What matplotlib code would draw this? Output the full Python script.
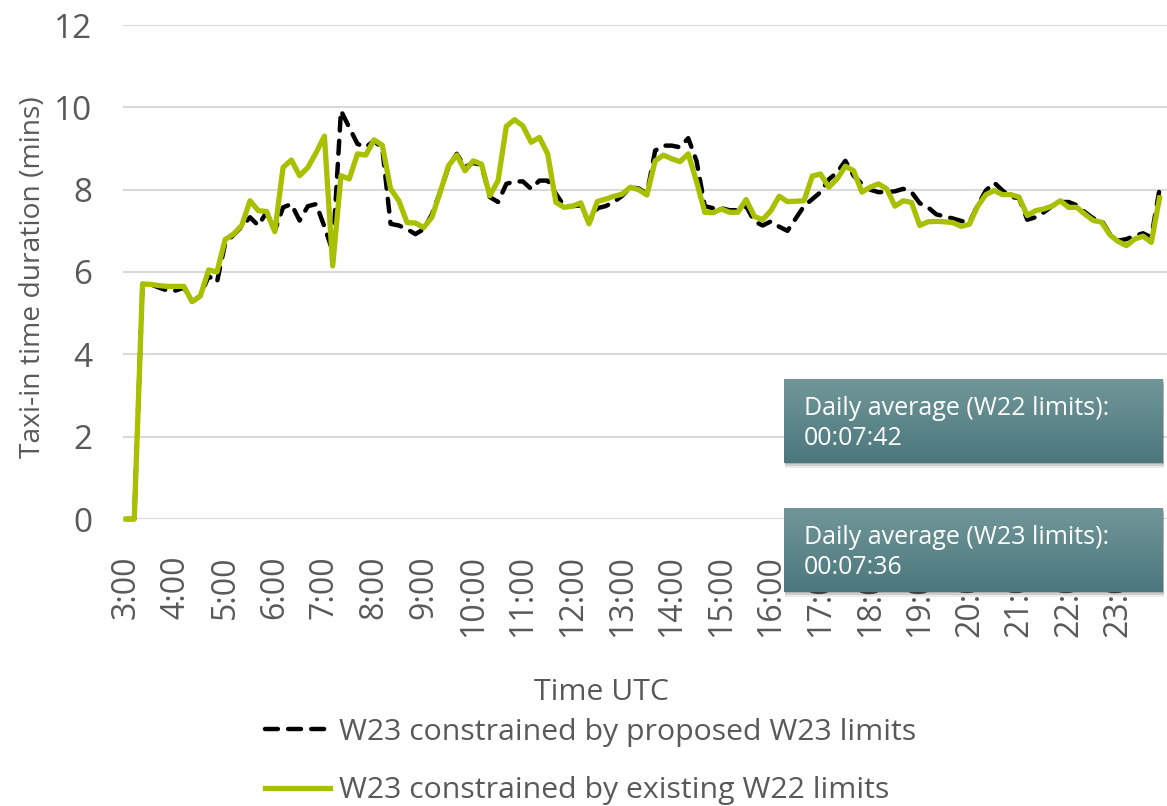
import numpy as np
import matplotlib
matplotlib.use("Agg")
import matplotlib.pyplot as plt
from matplotlib.lines import Line2D
from matplotlib.patches import Rectangle

plt.rcParams['font.family'] = ['Open Sans', 'DejaVu Sans']

# 10-minute slots from 3:00 to 23:50
tick_labels = [f"{h}:00" for h in range(3, 24)]

w23_proposed = [
    0, 0, 5.71, 5.70, 5.62, 5.55, 5.55, 5.62, 5.28, 5.42,
    5.90, 5.75, 6.70, 6.90, 7.10, 7.33, 7.13, 7.45, 7.00, 7.57,
    7.65, 7.25, 7.60, 7.65, 7.10, 6.50, 9.92, 9.51, 9.11, 9.03,
    9.19, 9.00, 7.17, 7.13, 7.04, 6.92, 7.04, 7.40, 7.95, 8.55,
    8.87, 8.55, 8.65, 8.60, 7.82, 7.70, 8.14, 8.20, 8.20, 8.02,
    8.22, 8.22, 7.90, 7.60, 7.60, 7.62, 7.20, 7.55, 7.60, 7.70,
    7.85, 8.06, 8.03, 7.90, 8.95, 9.07, 9.07, 9.03, 9.25, 8.70,
    7.60, 7.55, 7.55, 7.50, 7.50, 7.60, 7.23, 7.13, 7.23, 7.10,
    7.00, 7.30, 7.60, 7.77, 7.94, 8.25, 8.42, 8.70, 8.34, 8.14,
    8.00, 7.94, 7.94, 7.96, 8.02, 7.94, 7.67, 7.57, 7.40, 7.35,
    7.30, 7.24, 7.20, 7.62, 7.98, 8.17, 7.98, 7.82, 7.80, 7.27,
    7.33, 7.45, 7.60, 7.70, 7.70, 7.62, 7.45, 7.30, 7.25, 6.92,
    6.76, 6.80, 6.88, 6.94, 6.84, 8.02]

w22_existing = [
    0, 0, 5.71, 5.70, 5.67, 5.65, 5.65, 5.65, 5.28, 5.42,
    6.05, 6.00, 6.79, 6.92, 7.13, 7.73, 7.49, 7.47, 6.98, 8.54,
    8.72, 8.34, 8.54, 8.90, 9.30, 6.15, 8.34, 8.26, 8.87, 8.84,
    9.21, 9.08, 8.02, 7.73, 7.20, 7.19, 7.08, 7.33, 7.94, 8.58,
    8.84, 8.46, 8.70, 8.62, 7.85, 8.22, 9.54, 9.70, 9.55, 9.15,
    9.27, 8.87, 7.69, 7.57, 7.60, 7.68, 7.17, 7.71, 7.77, 7.84,
    7.89, 8.06, 8.00, 7.87, 8.70, 8.84, 8.75, 8.68, 8.87, 8.20,
    7.45, 7.44, 7.53, 7.45, 7.45, 7.76, 7.35, 7.27, 7.49, 7.84,
    7.71, 7.72, 7.73, 8.33, 8.38, 8.06, 8.26, 8.57, 8.46, 7.94,
    8.06, 8.14, 8.02, 7.60, 7.73, 7.69, 7.13, 7.22, 7.23, 7.22,
    7.20, 7.11, 7.16, 7.60, 7.88, 7.98, 7.88, 7.88, 7.82, 7.37,
    7.49, 7.53, 7.60, 7.73, 7.57, 7.57, 7.40, 7.25, 7.21, 6.90,
    6.74, 6.64, 6.80, 6.87, 6.72, 7.80]

avg_w22 = "00:07:42"
avg_w23 = "00:07:36"

GREEN = "#a8c000"
GREY = "#595959"
W, H = 1167, 806

fig = plt.figure(figsize=(W / 100, H / 100), dpi=100)
ax = fig.add_axes([123 / W, 1 - 519 / H, (W - 123) / W, (519 - 25) / H])

x = np.arange(len(w23_proposed))
ax.plot(x, w23_proposed, color="black", lw=3.2, dashes=(2.9, 2.3),
        dash_capstyle="round", clip_on=False, zorder=3)
ax.plot(x, w22_existing, color=GREEN, lw=3.8, solid_joinstyle="round",
        clip_on=False, zorder=4)

ax.set_xlim(-0.36, 125.9)
ax.set_ylim(0, 12)
ax.set_yticks(range(0, 13, 2))
ax.set_xticks(np.arange(0, len(w23_proposed), 6))
ax.set_xticklabels(tick_labels, rotation=90, va="top")
ax.tick_params(axis="both", length=0, colors=GREY, labelsize=24)
ax.tick_params(axis="x", pad=26, labelsize=23)
ax.tick_params(axis="y", pad=22)
ax.grid(axis="y", color="#d9d9d9", lw=1.5)
ax.set_axisbelow(True)
for s in ax.spines.values():
    s.set_visible(False)

fig.text(33 / W, 1 - 277 / H, "Taxi-in time duration (mins)", rotation=90,
         ha="center", va="center", fontsize=20.3, color=GREY)
fig.text(601 / W, 1 - 692 / H, "Time UTC", ha="center", va="center",
         fontsize=21.8, color=GREY)

h = [Line2D([0], [0], color="black", lw=3.2, dashes=(2.9, 2.3), dash_capstyle="round"),
     Line2D([0], [0], color=GREEN, lw=3.8)]
fig.legend(h, ["W23 constrained by proposed W23 limits",
               "W23 constrained by existing W22 limits"],
           loc="upper left", bbox_to_anchor=(265 / W, 1 - 718 / H),
           frameon=False, fontsize=21.8, labelcolor=GREY, handlelength=2.15,
           handletextpad=0.3, labelspacing=0.97, borderpad=0, borderaxespad=0)

# annotation boxes with vertical teal gradient and drop shadow
grad = np.linspace(0, 1, 64)[:, None]
teal = matplotlib.colors.LinearSegmentedColormap.from_list("teal", ["#719699", "#4b787d"])
for top, label, val in [(379, "Daily average (W22 limits):", avg_w22),
                        (508, "Daily average (W23 limits):", avg_w23)]:
    left, bw, bh = 784, 379, 84
    for k, a in [(5, 0.08), (3, 0.12), (1, 0.15)]:
        fig.patches.append(Rectangle(((left + 1) / W, 1 - (top + bh + k) / H), bw / W, bh / H,
                                     transform=fig.transFigure, color="#000000", alpha=a,
                                     lw=0, zorder=9))
    bax = fig.add_axes([left / W, 1 - (top + bh) / H, bw / W, bh / H], zorder=10)
    bax.imshow(grad, aspect="auto", cmap=teal, extent=(0, 1, 0, 1))
    bax.set_axis_off()
    bax.text(20 / bw, 1 - 29 / bh, label, color="white", fontsize=18,
             va="center", ha="left", transform=bax.transAxes)
    bax.text(20 / bw, 1 - 59 / bh, val, color="white", fontsize=18,
             va="center", ha="left", transform=bax.transAxes)

fig.savefig("out.png", dpi=100)
